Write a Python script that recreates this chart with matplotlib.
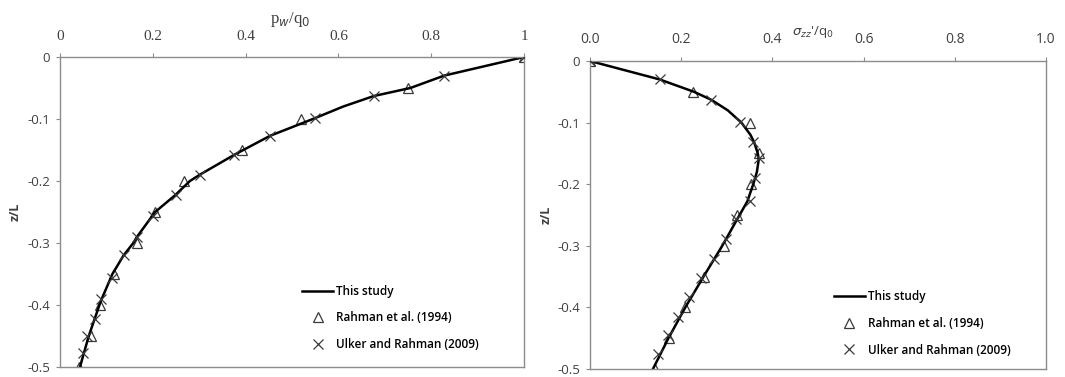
import matplotlib

matplotlib.use("Agg")
import matplotlib.pyplot as plt
from matplotlib.ticker import FixedLocator, FuncFormatter

plt.rcParams["axes.unicode_minus"] = False
plt.rcParams["font.family"] = ["Open Sans", "DejaVu Sans"]

# --- left panel: pore pressure p_w/q_0 vs z/L ---
z_line_l = [0, -0.03, -0.05, -0.063, -0.08, -0.1, -0.127, -0.15, -0.158, -0.19,
            -0.2, -0.223, -0.25, -0.29, -0.3, -0.32, -0.35, -0.39, -0.4, -0.45, -0.5]
p_line_l = [1.0, 0.828, 0.755, 0.676, 0.61, 0.545, 0.453, 0.395, 0.375, 0.301,
            0.28, 0.248, 0.205, 0.166, 0.158, 0.137, 0.113, 0.09, 0.085, 0.062, 0.043]
z_rahman_l = [0, -0.05, -0.1, -0.15, -0.2, -0.25, -0.3, -0.35, -0.4, -0.45, -0.5]
p_rahman_l = [1.0, 0.75, 0.52, 0.393, 0.267, 0.205, 0.165, 0.116, 0.087, 0.066, 0.041]
z_ulker_l = [0, -0.03, -0.063, -0.098, -0.127, -0.158, -0.19, -0.223, -0.257,
             -0.29, -0.32, -0.357, -0.39, -0.422, -0.45, -0.477]
p_ulker_l = [1.0, 0.828, 0.676, 0.549, 0.453, 0.375, 0.301, 0.249, 0.2,
             0.167, 0.137, 0.111, 0.089, 0.076, 0.058, 0.049]

# --- right panel: effective vertical stress sigma_zz'/q_0 vs z/L ---
z_line_r = [0, -0.03, -0.05, -0.063, -0.08, -0.1, -0.12, -0.132, -0.15, -0.16,
            -0.18, -0.2, -0.228, -0.25, -0.3, -0.35, -0.4, -0.45, -0.5]
s_line_r = [0.0, 0.153, 0.228, 0.266, 0.302, 0.332, 0.352, 0.36, 0.368, 0.37,
            0.366, 0.358, 0.345, 0.328, 0.29, 0.249, 0.209, 0.172, 0.138]
z_rahman_r = [0, -0.05, -0.1, -0.15, -0.2, -0.25, -0.3, -0.35, -0.4, -0.45, -0.5]
s_rahman_r = [0.0, 0.226, 0.35, 0.371, 0.353, 0.322, 0.293, 0.251, 0.208, 0.173, 0.142]
z_ulker_r = [0, -0.03, -0.063, -0.099, -0.132, -0.157, -0.19, -0.228, -0.257,
             -0.289, -0.321, -0.352, -0.383, -0.415, -0.444, -0.476]
s_ulker_r = [0.0, 0.153, 0.266, 0.328, 0.357, 0.37, 0.362, 0.35, 0.32,
             0.299, 0.273, 0.243, 0.218, 0.194, 0.17, 0.149]

y_ticks = [0, -0.1, -0.2, -0.3, -0.4, -0.5]
x_ticks = [0, 0.2, 0.4, 0.6, 0.8, 1.0]

AXIS_GREY = "#8c8c8c"
TEXT_GREY = "#404040"


def _style_axes(ax, x_fmt, tick_font, tick_size):
    ax.set_xlim(0, 1)
    ax.set_ylim(-0.5, 0)
    ax.xaxis.tick_top()
    ax.xaxis.set_label_position("top")
    ax.xaxis.set_major_locator(FixedLocator(x_ticks))
    ax.yaxis.set_major_locator(FixedLocator(y_ticks))
    ax.xaxis.set_major_formatter(FuncFormatter(x_fmt))
    ax.yaxis.set_major_formatter(FuncFormatter(lambda v, _: "0" if v == 0 else f"{v:.1f}"))
    for s in ax.spines.values():
        s.set_color(AXIS_GREY)
        s.set_linewidth(1.0)
    ax.tick_params(axis="x", direction="out", length=3, pad=7, colors=AXIS_GREY,
                   labelcolor=TEXT_GREY, labelsize=tick_size)
    ax.tick_params(axis="y", direction="out", length=3, pad=4, colors=AXIS_GREY,
                   labelcolor=TEXT_GREY, labelsize=9.5)
    for lbl in ax.get_xticklabels():
        lbl.set_family(tick_font)


fig = plt.figure(figsize=(10.65, 3.77), dpi=100)
ax_l = fig.add_axes([60 / 1065, 10 / 377, 464 / 1065, 310 / 377])
ax_r = fig.add_axes([590 / 1065, 8 / 377, 456 / 1065, 308 / 377])

for ax, zl, xl, zr, xr, zu, xu in [
    (ax_l, z_line_l, p_line_l, z_rahman_l, p_rahman_l, z_ulker_l, p_ulker_l),
    (ax_r, z_line_r, s_line_r, z_rahman_r, s_rahman_r, z_ulker_r, s_ulker_r),
]:
    ax.plot(xl, zl, color="black", linewidth=1.8, label="This study", zorder=2)
    ax.plot(xr, zr, linestyle="none", marker="^", markersize=6.5,
            markerfacecolor="white", markeredgecolor="#3a3a3a", markeredgewidth=0.9,
            label="Rahman et al. (1994)", zorder=1)
    ax.plot(xu, zu, linestyle="none", marker="x", markersize=6.5,
            color="#3a3a3a", markeredgewidth=0.9,
            label="Ulker and Rahman (2009)", zorder=3)

_style_axes(ax_l, lambda v, _: "0" if v == 0 else ("1" if v == 1 else f"{v:.1f}"),
            "Liberation Serif", 11)
_style_axes(ax_r, lambda v, _: f"{v:.1f}", "Open Sans", 10)

ax_l.set_xlabel(r"p$_w$/q$_0$", family="Liberation Serif", fontsize=12, color=TEXT_GREY)
ax_l.xaxis.set_label_coords(0.496, 1.11)
ax_r.set_xlabel(r"$\sigma_{zz}$'/q$_0$", fontsize=9.5, color=TEXT_GREY)
ax_r.xaxis.set_label_coords(0.489, 1.085)

for ax in (ax_l, ax_r):
    ax.set_ylabel("z/L", fontsize=9, fontweight="bold", color=TEXT_GREY)

ax_l.yaxis.set_label_coords(-0.082, 0.5)
ax_r.yaxis.set_label_coords(-0.082, 0.5)

leg_kw = dict(frameon=False, loc="upper left", fontsize=8.5, handlelength=2.6,
              handletextpad=0.3, labelspacing=1.15, borderpad=0, borderaxespad=0,
              labelcolor="black")
leg_l = ax_l.legend(bbox_to_anchor=(0.522, 0.265), **leg_kw)
leg_r = ax_r.legend(bbox_to_anchor=(0.535, 0.255), **leg_kw)
for leg in (leg_l, leg_r):
    for t in leg.get_texts():
        t.set_fontweight("semibold")

fig.savefig("out.png", dpi=100)
